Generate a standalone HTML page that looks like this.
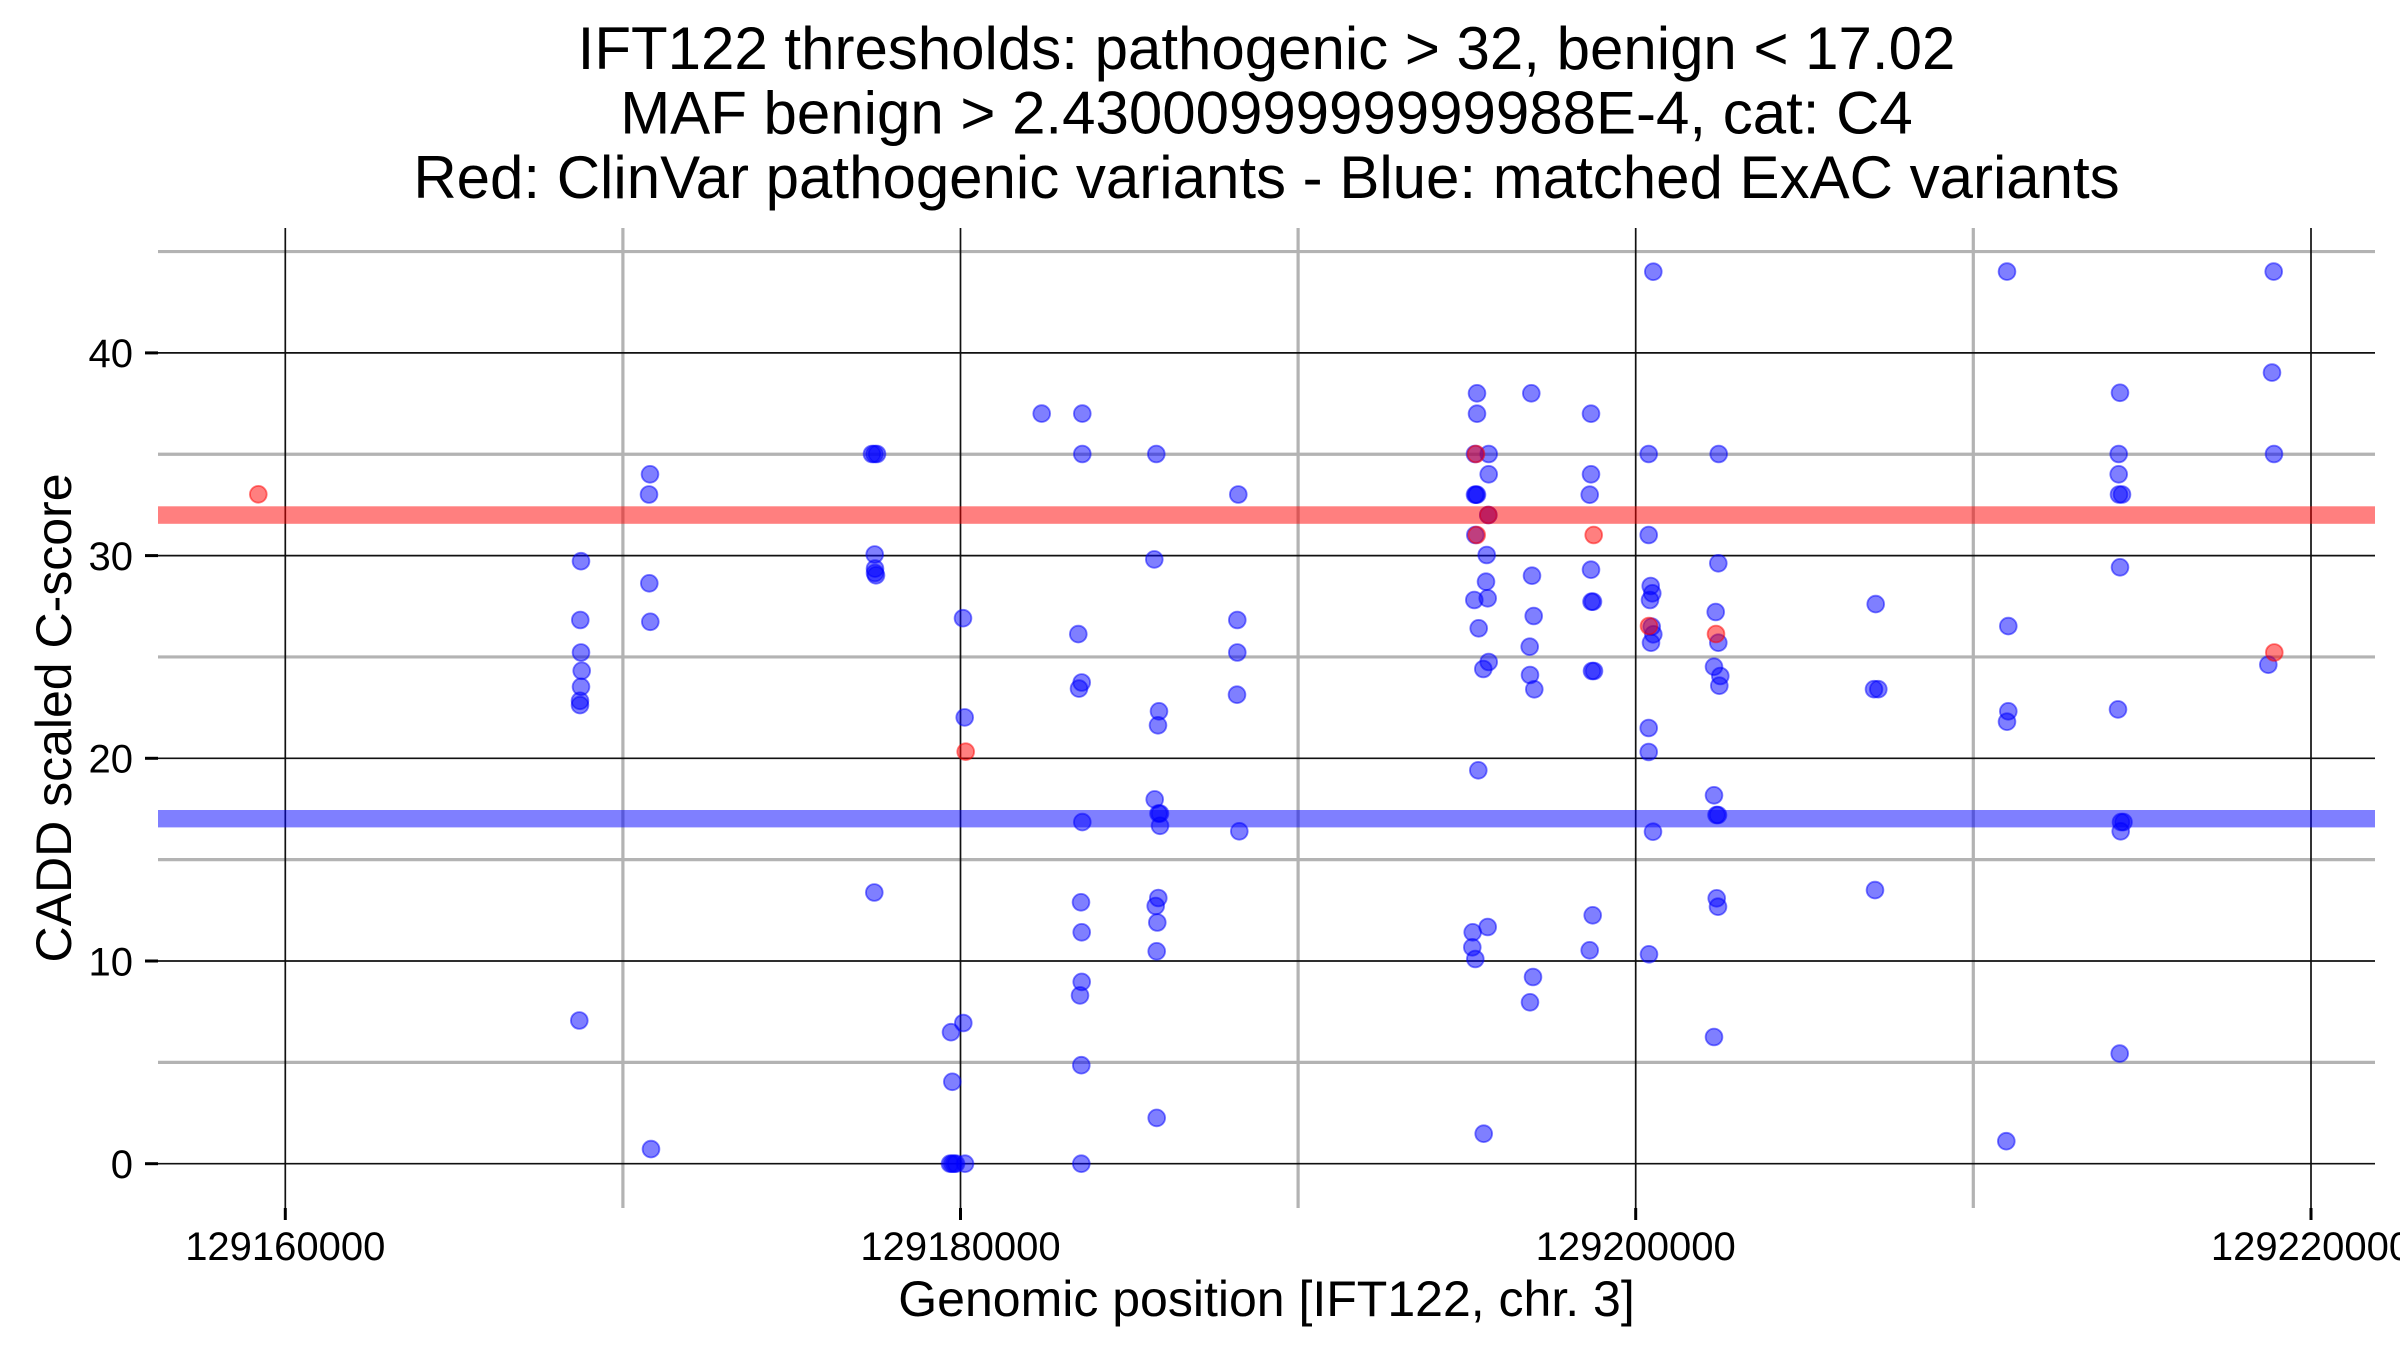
<!DOCTYPE html>
<html>
<head>
<meta charset="utf-8">
<style>
html,body{margin:0;padding:0;background:#ffffff;}
svg{display:block;}
text{font-family:"Liberation Sans",Arial,sans-serif;fill:#000;}
.b{fill:#0000ff;fill-opacity:0.5;stroke:#0000ff;stroke-opacity:0.5;stroke-width:1.8;}
.r{fill:#ff0000;fill-opacity:0.5;stroke:#ff0000;stroke-opacity:0.5;stroke-width:1.8;}
</style>
</head>
<body>
<svg width="2400" height="1350" viewBox="0 0 2400 1350" xmlns="http://www.w3.org/2000/svg">
<rect x="0" y="0" width="2400" height="1350" fill="#ffffff"/>
<text x="1266.5" y="69" font-size="60" text-anchor="middle">IFT122 thresholds: pathogenic &gt; 32, benign &lt; 17.02</text>
<text x="1266.5" y="133.5" font-size="60" text-anchor="middle">MAF benign &gt; 2.4300099999999988E-4, cat: C4</text>
<text x="1266.5" y="198" font-size="60" text-anchor="middle">Red: ClinVar pathogenic variants - Blue: matched ExAC variants</text>
<g stroke="#b3b3b3" stroke-width="3.2">
<line x1="158" x2="2375" y1="251.55" y2="251.55"/>
<line x1="158" x2="2375" y1="454.25" y2="454.25"/>
<line x1="158" x2="2375" y1="656.95" y2="656.95"/>
<line x1="158" x2="2375" y1="859.65" y2="859.65"/>
<line x1="158" x2="2375" y1="1062.35" y2="1062.35"/>
<line x1="622.9" x2="622.9" y1="228" y2="1208"/>
<line x1="1298.1" x2="1298.1" y1="228" y2="1208"/>
<line x1="1973.3" x2="1973.3" y1="228" y2="1208"/>
</g>
<g stroke="#111111" stroke-width="1.7">
<line x1="158" x2="2375" y1="352.9" y2="352.9"/>
<line x1="158" x2="2375" y1="555.6" y2="555.6"/>
<line x1="158" x2="2375" y1="758.3" y2="758.3"/>
<line x1="158" x2="2375" y1="961" y2="961"/>
<line x1="158" x2="2375" y1="1163.7" y2="1163.7"/>
<line x1="285.3" x2="285.3" y1="228" y2="1208"/>
<line x1="960.5" x2="960.5" y1="228" y2="1208"/>
<line x1="1635.7" x2="1635.7" y1="228" y2="1208"/>
<line x1="2311" x2="2311" y1="228" y2="1208"/>
</g>
<rect x="158" y="506.3" width="2217" height="17.5" fill="#ff0000" fill-opacity="0.5"/>
<rect x="158" y="810" width="2217" height="17.4" fill="#0000ff" fill-opacity="0.5"/>
<g class="b">
<circle cx="1041.7" cy="413.6" r="8.4"/>
<circle cx="581" cy="561.2" r="8.4"/>
<circle cx="580.3" cy="620" r="8.4"/>
<circle cx="581" cy="652.5" r="8.4"/>
<circle cx="581.7" cy="670.8" r="8.4"/>
<circle cx="581" cy="686.8" r="8.4"/>
<circle cx="580" cy="700.8" r="8.4"/>
<circle cx="580" cy="705.1" r="8.4"/>
<circle cx="579.3" cy="1020.5" r="8.4"/>
<circle cx="650" cy="474.3" r="8.4"/>
<circle cx="649" cy="494.5" r="8.4"/>
<circle cx="649.3" cy="583.3" r="8.4"/>
<circle cx="650.3" cy="621.8" r="8.4"/>
<circle cx="651" cy="1149.1" r="8.4"/>
<circle cx="872" cy="454" r="8.4"/>
<circle cx="874.5" cy="454" r="8.4"/>
<circle cx="877" cy="454" r="8.4"/>
<circle cx="874.7" cy="554.5" r="8.4"/>
<circle cx="875" cy="568.6" r="8.4"/>
<circle cx="875" cy="573" r="8.4"/>
<circle cx="876" cy="575.3" r="8.4"/>
<circle cx="874.3" cy="892.5" r="8.4"/>
<circle cx="963" cy="618.2" r="8.4"/>
<circle cx="964.7" cy="717.4" r="8.4"/>
<circle cx="963.3" cy="1023" r="8.4"/>
<circle cx="951" cy="1032.2" r="8.4"/>
<circle cx="952.3" cy="1081.8" r="8.4"/>
<circle cx="950" cy="1163.7" r="8.4"/>
<circle cx="952" cy="1163.7" r="8.4"/>
<circle cx="954" cy="1163.7" r="8.4"/>
<circle cx="956" cy="1163.7" r="8.4"/>
<circle cx="965" cy="1163.7" r="8.4"/>
<circle cx="1082.3" cy="413.6" r="8.4"/>
<circle cx="1082.3" cy="454" r="8.4"/>
<circle cx="1156.3" cy="454" r="8.4"/>
<circle cx="1238.3" cy="494.5" r="8.4"/>
<circle cx="1154.3" cy="559.4" r="8.4"/>
<circle cx="1078.3" cy="634.1" r="8.4"/>
<circle cx="1081.7" cy="682.5" r="8.4"/>
<circle cx="1079" cy="688.6" r="8.4"/>
<circle cx="1159" cy="711.3" r="8.4"/>
<circle cx="1158" cy="725.3" r="8.4"/>
<circle cx="1237.3" cy="620" r="8.4"/>
<circle cx="1237.3" cy="652.5" r="8.4"/>
<circle cx="1237" cy="694.7" r="8.4"/>
<circle cx="1154.7" cy="799.4" r="8.4"/>
<circle cx="1158.5" cy="813.5" r="8.4"/>
<circle cx="1160" cy="813.5" r="8.4"/>
<circle cx="1160" cy="825.8" r="8.4"/>
<circle cx="1082.3" cy="822.1" r="8.4"/>
<circle cx="1239.3" cy="831.3" r="8.4"/>
<circle cx="1081" cy="902.3" r="8.4"/>
<circle cx="1081.7" cy="932.3" r="8.4"/>
<circle cx="1158.3" cy="898" r="8.4"/>
<circle cx="1155.7" cy="906" r="8.4"/>
<circle cx="1157.3" cy="922.5" r="8.4"/>
<circle cx="1156.7" cy="951.3" r="8.4"/>
<circle cx="1081.7" cy="981.9" r="8.4"/>
<circle cx="1080" cy="995.4" r="8.4"/>
<circle cx="1081.3" cy="1065.2" r="8.4"/>
<circle cx="1156.7" cy="1117.9" r="8.4"/>
<circle cx="1081.3" cy="1163.7" r="8.4"/>
<circle cx="1653.3" cy="271.7" r="8.4"/>
<circle cx="1477" cy="393.3" r="8.4"/>
<circle cx="1477" cy="413.7" r="8.4"/>
<circle cx="1531.3" cy="393.3" r="8.4"/>
<circle cx="1591" cy="413.7" r="8.4"/>
<circle cx="1475" cy="454" r="8.4"/>
<circle cx="1488.7" cy="454" r="8.4"/>
<circle cx="1648.7" cy="454" r="8.4"/>
<circle cx="1718.7" cy="454" r="8.4"/>
<circle cx="1488.7" cy="474.3" r="8.4"/>
<circle cx="1591" cy="474.3" r="8.4"/>
<circle cx="1475" cy="494.7" r="8.4"/>
<circle cx="1476" cy="494.7" r="8.4"/>
<circle cx="1477" cy="494.7" r="8.4"/>
<circle cx="1589.7" cy="494.7" r="8.4"/>
<circle cx="1488.3" cy="515" r="8.4"/>
<circle cx="1475.3" cy="535" r="8.4"/>
<circle cx="1648.7" cy="535" r="8.4"/>
<circle cx="1486.7" cy="555" r="8.4"/>
<circle cx="1718.3" cy="563.3" r="8.4"/>
<circle cx="1532" cy="575.7" r="8.4"/>
<circle cx="1591" cy="569.7" r="8.4"/>
<circle cx="1486" cy="581.7" r="8.4"/>
<circle cx="1474.3" cy="600" r="8.4"/>
<circle cx="1487.7" cy="598.3" r="8.4"/>
<circle cx="1591.5" cy="601.7" r="8.4"/>
<circle cx="1593" cy="601.7" r="8.4"/>
<circle cx="1650.7" cy="586" r="8.4"/>
<circle cx="1652.3" cy="593.3" r="8.4"/>
<circle cx="1650" cy="600" r="8.4"/>
<circle cx="1533.7" cy="616" r="8.4"/>
<circle cx="1478.7" cy="628.3" r="8.4"/>
<circle cx="1715.7" cy="612" r="8.4"/>
<circle cx="1651.7" cy="626.7" r="8.4"/>
<circle cx="1653.3" cy="634.3" r="8.4"/>
<circle cx="1651" cy="642.7" r="8.4"/>
<circle cx="1718.3" cy="642.7" r="8.4"/>
<circle cx="1529.7" cy="646.7" r="8.4"/>
<circle cx="1488.7" cy="662" r="8.4"/>
<circle cx="1483.3" cy="669" r="8.4"/>
<circle cx="1592" cy="671" r="8.4"/>
<circle cx="1594" cy="671" r="8.4"/>
<circle cx="1530" cy="675" r="8.4"/>
<circle cx="1534.3" cy="689.3" r="8.4"/>
<circle cx="1714" cy="666.7" r="8.4"/>
<circle cx="1720.3" cy="676" r="8.4"/>
<circle cx="1719.3" cy="685.7" r="8.4"/>
<circle cx="1648.7" cy="728" r="8.4"/>
<circle cx="1648.7" cy="752" r="8.4"/>
<circle cx="1478.3" cy="770.3" r="8.4"/>
<circle cx="1714" cy="795.3" r="8.4"/>
<circle cx="1716.5" cy="815" r="8.4"/>
<circle cx="1718" cy="815" r="8.4"/>
<circle cx="1653" cy="831.7" r="8.4"/>
<circle cx="1716.7" cy="898.3" r="8.4"/>
<circle cx="1718" cy="906.7" r="8.4"/>
<circle cx="1592.7" cy="915.3" r="8.4"/>
<circle cx="1487.7" cy="927" r="8.4"/>
<circle cx="1472.7" cy="932.3" r="8.4"/>
<circle cx="1472.3" cy="947.3" r="8.4"/>
<circle cx="1475.3" cy="959" r="8.4"/>
<circle cx="1589.7" cy="950.3" r="8.4"/>
<circle cx="1649" cy="954.3" r="8.4"/>
<circle cx="1533" cy="977" r="8.4"/>
<circle cx="1530" cy="1002.3" r="8.4"/>
<circle cx="1714" cy="1037" r="8.4"/>
<circle cx="1483.7" cy="1133.7" r="8.4"/>
<circle cx="2007" cy="271.6" r="8.4"/>
<circle cx="2273.7" cy="271.6" r="8.4"/>
<circle cx="2272" cy="372.6" r="8.4"/>
<circle cx="2120" cy="392.8" r="8.4"/>
<circle cx="2118.7" cy="454" r="8.4"/>
<circle cx="2274" cy="454" r="8.4"/>
<circle cx="2118.7" cy="474.3" r="8.4"/>
<circle cx="2119" cy="494.5" r="8.4"/>
<circle cx="2122" cy="494.5" r="8.4"/>
<circle cx="2120" cy="567.3" r="8.4"/>
<circle cx="1875.7" cy="604.1" r="8.4"/>
<circle cx="2008.3" cy="626.1" r="8.4"/>
<circle cx="2268.3" cy="664.7" r="8.4"/>
<circle cx="1874" cy="689.2" r="8.4"/>
<circle cx="1878.3" cy="689.2" r="8.4"/>
<circle cx="2008.3" cy="711.3" r="8.4"/>
<circle cx="2007" cy="721.7" r="8.4"/>
<circle cx="2118" cy="709.4" r="8.4"/>
<circle cx="2121" cy="822.1" r="8.4"/>
<circle cx="2123.5" cy="822.1" r="8.4"/>
<circle cx="2120.7" cy="831.3" r="8.4"/>
<circle cx="1875" cy="890.1" r="8.4"/>
<circle cx="2119.7" cy="1053.6" r="8.4"/>
<circle cx="2006.3" cy="1141.2" r="8.4"/>
</g>
<g class="r">
<circle cx="258.3" cy="494.3" r="8.4"/>
<circle cx="965.7" cy="751.7" r="8.4"/>
<circle cx="1476" cy="454" r="8.4"/>
<circle cx="1488.3" cy="515" r="8.4"/>
<circle cx="1476.7" cy="535" r="8.4"/>
<circle cx="1593.7" cy="535" r="8.4"/>
<circle cx="1649" cy="626" r="8.4"/>
<circle cx="1716" cy="634" r="8.4"/>
<circle cx="2274.3" cy="652.5" r="8.4"/>
</g>
<g stroke="#000" stroke-width="3">
<line x1="145" x2="158" y1="352.9" y2="352.9"/>
<line x1="145" x2="158" y1="555.6" y2="555.6"/>
<line x1="145" x2="158" y1="758.3" y2="758.3"/>
<line x1="145" x2="158" y1="961" y2="961"/>
<line x1="145" x2="158" y1="1163.7" y2="1163.7"/>
<line x1="285.3" x2="285.3" y1="1208" y2="1220"/>
<line x1="960.5" x2="960.5" y1="1208" y2="1220"/>
<line x1="1635.7" x2="1635.7" y1="1208" y2="1220"/>
<line x1="2311" x2="2311" y1="1208" y2="1220"/>
</g>
<g font-size="40" text-anchor="end">
<text x="133" y="367.2">40</text>
<text x="133" y="569.9">30</text>
<text x="133" y="772.6">20</text>
<text x="133" y="975.3">10</text>
<text x="133" y="1178">0</text>
</g>
<g font-size="40" text-anchor="middle">
<text x="285.3" y="1260">129160000</text>
<text x="960.5" y="1260">129180000</text>
<text x="1635.7" y="1260">129200000</text>
<text x="2311" y="1260">129220000</text>
</g>
<text x="1266.5" y="1316" font-size="50" text-anchor="middle">Genomic position [IFT122, chr. 3]</text>
<text transform="translate(71,718) rotate(-90)" font-size="50" text-anchor="middle">CADD scaled C-score</text>
</svg>
</body>
</html>
